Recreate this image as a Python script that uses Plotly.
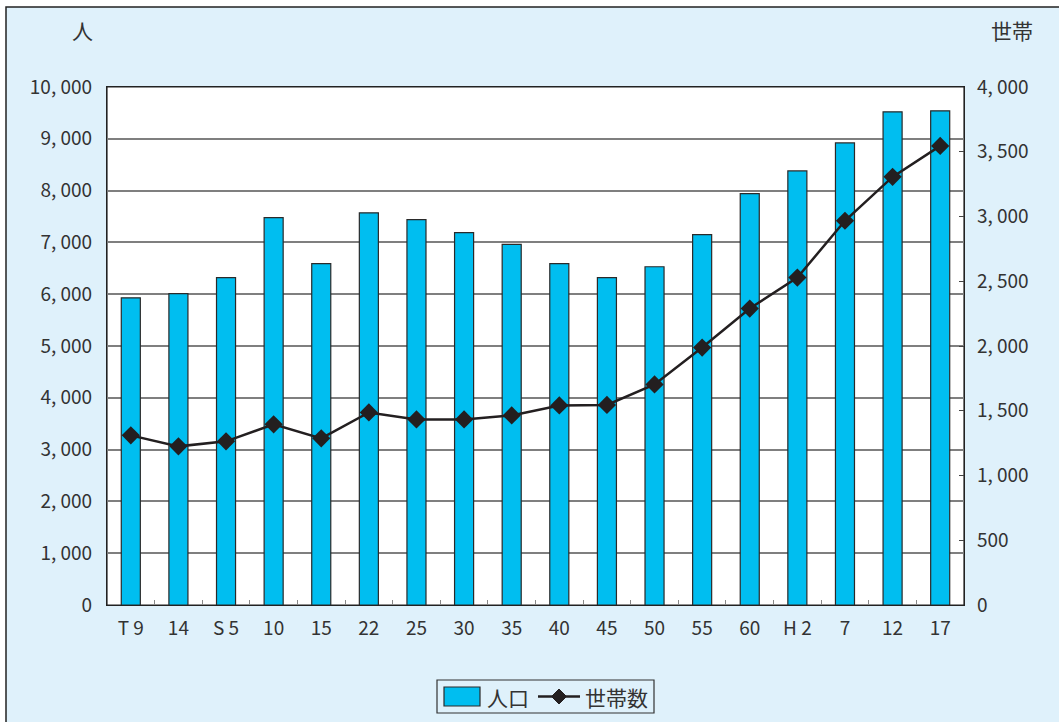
import plotly.graph_objects as go

categories = ["T 9", "14", "S 5", "10", "15", "22", "25", "30", "35", "40",
              "45", "50", "55", "60", "H 2", "7", "12", "17"]
population = [5930, 6010, 6320, 7480, 6590, 7570, 7440, 7190, 6960, 6590,
              6320, 6530, 7150, 7940, 8380, 8920, 9520, 9540]
households = [1310, 1225, 1264, 1395, 1287, 1487, 1433, 1433, 1464, 1541,
              1545, 1703, 1988, 2289, 2528, 2967, 3306, 3545]

left_ticks = [0, 1000, 2000, 3000, 4000, 5000, 6000, 7000, 8000, 9000, 10000]
left_ticktext = ["0", "1, 000", "2, 000", "3, 000", "4, 000", "5, 000",
                 "6, 000", "7, 000", "8, 000", "9, 000", "10, 000"]
right_ticks = [0, 500, 1000, 1500, 2000, 2500, 3000, 3500, 4000]
right_ticktext = ["0", "500", "1, 000", "1, 500", "2, 000", "2, 500",
                  "3, 000", "3, 500", "4, 000"]

FONT = "Noto Sans CJK JP"
TXT = "#333333"
BG = "#DFF1FB"
BAR = "#00BEF0"
LINE = "#231F20"

fig = go.Figure()
fig.add_trace(go.Bar(
    x=categories, y=population, name="人口",
    marker=dict(color=BAR, line=dict(color="#2a2a2a", width=1.2)),
    width=0.4, showlegend=False, hoverinfo="skip",
))
fig.add_trace(go.Scatter(
    x=categories, y=households, name="世帯数", yaxis="y2",
    mode="lines+markers",
    line=dict(color=LINE, width=2.5),
    marker=dict(symbol="diamond", size=14, color=LINE),
    showlegend=False, hoverinfo="skip",
))

W, H = 1059, 722
L, R, T, B = 107, 95, 87, 117
pw, ph = W - L - R, H - T - B

def px(x):
    return (x - L) / pw

def py(y):
    return (H - B - y) / ph

shapes = [
    dict(type="rect", xref="paper", yref="paper", layer="below",
         x0=px(6), x1=px(1070), y0=py(730), y1=py(7),
         fillcolor=BG, line=dict(color="#222222", width=1.5)),
    dict(type="rect", xref="paper", yref="paper", layer="below",
         x0=0, x1=1, y0=0, y1=1,
         fillcolor="white", line=dict(color="#222222", width=1.2)),
    # custom legend
    dict(type="rect", xref="paper", yref="paper",
         x0=px(437), x1=px(654), y0=py(713), y1=py(680),
         fillcolor=BG, line=dict(color="#333333", width=1.2)),
    dict(type="rect", xref="paper", yref="paper",
         x0=px(444), x1=px(480), y0=py(706), y1=py(687),
         fillcolor=BAR, line=dict(color="#2a2a2a", width=1.2)),
    dict(type="line", xref="paper", yref="paper",
         x0=px(538), x1=px(580), y0=py(696.5), y1=py(696.5),
         line=dict(color=LINE, width=2.5)),
    dict(type="path", xref="paper", yref="paper",
         path="M {a},{b} L {c},{d} L {a},{e} L {f},{d} Z".format(
             a=px(559), b=py(689), c=px(566.5), d=py(696.5), e=py(704), f=px(551.5)),
         fillcolor=LINE, line=dict(color=LINE, width=1)),
]

def ann(text, x, y, xanchor="center"):
    return dict(text=text, xref="paper", yref="paper", x=px(x), y=py(y),
                xanchor=xanchor, yanchor="middle", showarrow=False,
                font=dict(size=21, family=FONT, color=TXT))

fig.update_layout(
    width=W, height=H,
    margin=dict(l=L, r=R, t=T, b=B),
    paper_bgcolor="white",
    plot_bgcolor="rgba(0,0,0,0)",
    font=dict(family=FONT, color=TXT, size=18),
    showlegend=False,
    xaxis=dict(
        type="category", range=[-0.5, len(categories) - 0.5],
        showline=True, linecolor="#222222", linewidth=1.2, mirror=True,
        ticks="inside", tickson="boundaries", ticklen=5, tickcolor="#888888",
        tickfont=dict(size=19), ticklabelstandoff=6,
        showgrid=False, fixedrange=True,
    ),
    yaxis=dict(
        range=[0, 10000], tickvals=left_ticks, ticktext=left_ticktext,
        showgrid=True, gridcolor="#7f7f7f", gridwidth=1.5,
        showline=True, linecolor="#222222", linewidth=1.2,
        ticks="", tickfont=dict(size=19), ticklabelstandoff=10,
        zeroline=False, fixedrange=True,
    ),
    yaxis2=dict(
        range=[0, 4000], tickvals=right_ticks, ticktext=right_ticktext,
        overlaying="y", side="right", showgrid=False,
        showline=True, linecolor="#222222", linewidth=1.2,
        ticks="inside", ticklen=5, tickcolor="#444444",
        tickfont=dict(size=19), ticklabelstandoff=8,
        zeroline=False, fixedrange=True,
    ),
    shapes=shapes,
    annotations=[
        ann("人", 82, 30),
        ann("世帯", 1012, 30),
        ann("人口", 485, 697, "left"),
        ann("世帯数", 583, 697, "left"),
    ],
)

fig.write_html("out.html", config={"displayModeBar": False},
               post_script="document.body.style.margin='0';")
